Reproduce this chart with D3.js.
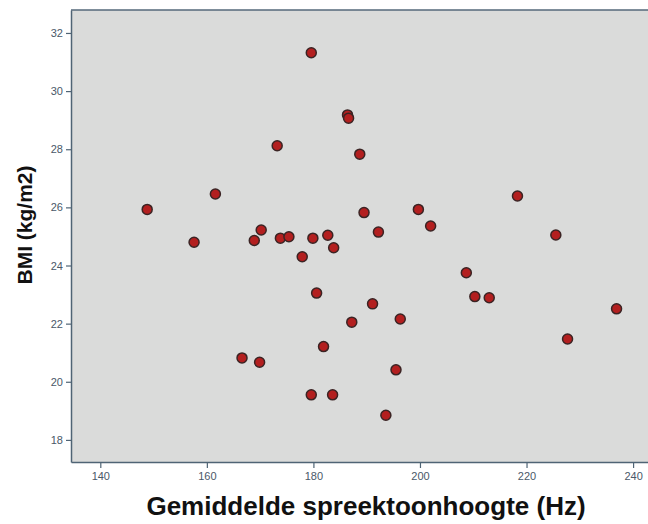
<!DOCTYPE html>
<html>
<head>
<meta charset="utf-8">
<script src="https://cdn.jsdelivr.net/npm/d3@7"></script>
<style>
    body { margin: 0; background: #fff; }
    svg { display: block; }
</style>
</head>
<body>
<div id="chart"></div>
<script>
// Mean speaking pitch (Hz) vs BMI
const pitchHz = [148.8, 157.6, 161.6, 166.6, 168.9, 169.9, 170.2, 173.2, 173.8, 175.4,
    177.9, 179.6, 179.6, 179.9, 180.6, 181.9, 182.7, 183.6, 183.8, 186.4,
    186.6, 187.2, 188.7, 189.5, 191.1, 192.2, 193.6, 195.5, 196.3, 199.7,
    202.0, 208.7, 210.3, 213.0, 218.3, 225.5, 227.7, 236.9];
const bmi = [25.93, 24.80, 26.46, 20.82, 24.86, 20.67, 25.22, 28.12, 24.94, 24.99,
    24.30, 31.32, 19.55, 24.94, 23.05, 21.21, 25.04, 19.55, 24.61, 29.18,
    29.07, 22.05, 27.83, 25.82, 22.68, 25.15, 18.85, 20.41, 22.16, 25.93,
    25.36, 23.75, 22.93, 22.89, 26.39, 25.05, 21.47, 22.51];
const xTicks = [140, 160, 180, 200, 220, 240];
const yTicks = [18, 20, 22, 24, 26, 28, 30, 32];

const W = 648, H = 524;
const margin = { top: 10, right: 0, bottom: 62, left: 71 };
const width = W - margin.left - margin.right;
const height = H - margin.top - margin.bottom;

const svg = d3.select('#chart').append('svg')
    .attr('width', W)
    .attr('height', H);

const g = svg.append('g')
    .attr('transform', `translate(${margin.left},${margin.top})`);

const x = d3.scaleLinear().domain([134.5, 242.8]).range([0, width]);
const y = d3.scaleLinear().domain([17.24, 32.79]).range([height, 0]);

// plot background
g.append('rect')
    .attr('width', width)
    .attr('height', height)
    .attr('fill', '#dadbda');

// top frame line
g.append('line')
    .attr('x1', 0).attr('x2', width)
    .attr('y1', 0).attr('y2', 0)
    .attr('stroke', '#55697a')
    .attr('stroke-width', 1.5);

const axisColor = '#4f6475';

const xAxis = g.append('g')
    .attr('transform', `translate(0,${height})`)
    .call(d3.axisBottom(x).tickValues(xTicks).tickSize(6).tickSizeOuter(0).tickPadding(4));

const yAxis = g.append('g')
    .call(d3.axisLeft(y).tickValues(yTicks).tickSize(5).tickSizeOuter(0).tickPadding(3));

[xAxis, yAxis].forEach(ax => {
    ax.select('.domain').attr('stroke', axisColor).attr('stroke-width', 1.5);
    ax.selectAll('.tick line').attr('stroke', axisColor).attr('stroke-width', 1.2);
    ax.selectAll('.tick text')
        .attr('fill', '#4a5868')
        .style('font-family', 'Arial, "Liberation Sans", sans-serif')
        .style('font-size', '11px');
});

// points
const points = pitchHz.map((p, i) => ({ p, b: bmi[i] }));
g.selectAll('.dot')
    .data(points)
    .join('circle')
    .attr('class', 'dot')
    .attr('cx', d => x(d.p))
    .attr('cy', d => y(d.b))
    .attr('r', 5)
    .attr('fill', '#b31f1f')
    .attr('stroke', '#3b2424')
    .attr('stroke-width', 1.5);

// axis titles
svg.append('text')
    .attr('x', 366)
    .attr('y', 515)
    .attr('text-anchor', 'middle')
    .style('font-family', 'Arial, "Liberation Sans", sans-serif')
    .style('font-weight', 'bold')
    .style('font-size', '26px')
    .attr('fill', '#111')
    .text('Gemiddelde spreektoonhoogte (Hz)');

svg.append('text')
    .attr('transform', 'translate(32,225) rotate(-90)')
    .attr('text-anchor', 'middle')
    .style('font-family', 'Arial, "Liberation Sans", sans-serif')
    .style('font-weight', 'bold')
    .style('font-size', '21px')
    .attr('fill', '#111')
    .text('BMI (kg/m2)');
</script>
</body>
</html>
